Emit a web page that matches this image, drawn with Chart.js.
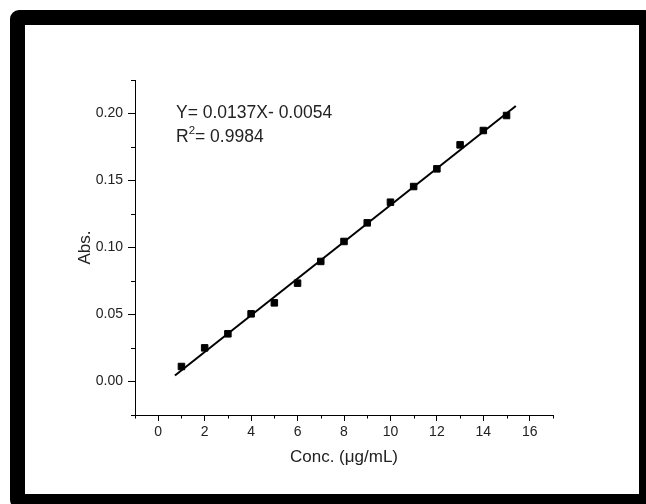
<!DOCTYPE html>
<html><head><meta charset="utf-8">
<script src="https://cdn.jsdelivr.net/npm/chart.js@4/dist/chart.umd.min.js"></script>
<style>
html,body{margin:0;padding:0;background:#fff;overflow:hidden;width:646px;height:504px;}
#frame{position:absolute;left:10px;top:10px;width:614px;height:469px;border:15px solid #000;border-radius:9px;background:#fff;}
#wrap{position:absolute;left:0;top:0;width:646px;height:504px;}
</style></head><body>
<div id="frame"></div>
<div id="wrap"><canvas id="c" width="646" height="504"></canvas></div>
<script>
// ---- data ----
const concentrations = [1, 2, 3, 4, 5, 6, 7, 8, 9, 10, 11, 12, 13, 14, 15];
const absorbance = [0.0112, 0.0251, 0.0356, 0.0505, 0.0587, 0.0734, 0.0896, 0.1045, 0.1184, 0.1338, 0.1455, 0.1587, 0.1766, 0.1873, 0.1985];
const fitLineX = [0.72, 15.4];
const fitLineY = [0.0045, 0.2056];
const xRange = [-1, 17];
const yRange = [-0.025, 0.225];
const xTitle = 'Conc. (μg/mL)';
const yTitle = 'Abs.';
const equationText = 'Y= 0.0137X- 0.0054';
const r2Parts = ['R', '2', '= 0.9984'];

const FAMILY = 'Arial, "Liberation Sans", sans-serif';
const TXT = '#222';

const isMajorX = v => Math.abs(v / 2 - Math.round(v / 2)) < 1e-6;
const isMajorY = v => Math.abs(v / 0.05 - Math.round(v / 0.05)) < 1e-6;

const minorTicks = {
  id: 'minorTicks',
  afterDraw(chart) {
    const c = chart.ctx;
    c.save();
    c.strokeStyle = '#000';
    c.lineWidth = 1;
    const xs = chart.scales.x, ys = chart.scales.y;
    c.beginPath();
    xs.ticks.forEach(t => {
      if (!isMajorX(t.value)) {
        const px = Math.round(xs.getPixelForValue(t.value)) + 0.5;
        c.moveTo(px, xs.top); c.lineTo(px, xs.top + 3.5);
      }
    });
    ys.ticks.forEach(t => {
      if (!isMajorY(t.value)) {
        const py = Math.round(ys.getPixelForValue(t.value)) + 0.5;
        c.moveTo(ys.right, py); c.lineTo(ys.right - 4, py);
      }
    });
    c.stroke();
    c.restore();
  }
};

const annotation = {
  id: 'annotation',
  afterDatasetsDraw(chart) {
    const c = chart.ctx, a = chart.chartArea;
    const x0 = a.left + 41;
    c.save();
    c.fillStyle = TXT;
    c.textBaseline = 'alphabetic';
    c.textAlign = 'left';
    c.font = '17.5px ' + FAMILY;
    c.fillText(equationText, x0, a.top + 38);
    const by = a.top + 61.7;
    c.fillText(r2Parts[0], x0, by);
    let x = x0 + c.measureText(r2Parts[0]).width;
    c.font = '11.5px ' + FAMILY;
    c.fillText(r2Parts[1], x, by - 7.5);
    x += c.measureText(r2Parts[1]).width;
    c.font = '17.5px ' + FAMILY;
    c.fillText(r2Parts[2], x, by);
    c.restore();
  }
};

new Chart(document.getElementById('c'), {
  type: 'scatter',
  data: {
    datasets: [
      {
        label: 'fit',
        type: 'line',
        data: fitLineX.map((x, i) => ({ x, y: fitLineY[i] })),
        borderColor: '#000',
        borderWidth: 2,
        pointRadius: 0,
        showLine: true,
        fill: false,
        tension: 0,
        order: 1
      },
      {
        label: 'data',
        data: concentrations.map((x, i) => ({ x, y: absorbance[i] })),
        pointStyle: 'rect',
        pointRadius: 4.6,
        pointHoverRadius: 4.6,
        backgroundColor: '#000',
        borderColor: '#000',
        borderWidth: 1,
        order: 0
      }
    ]
  },
  options: {
    responsive: false,
    animation: false,
    devicePixelRatio: 1,
    events: [],
    layout: { padding: { left: 0, top: 80, right: 93, bottom: 0 } },
    plugins: { legend: { display: false }, tooltip: { enabled: false } },
    scales: {
      x: {
        type: 'linear',
        position: 'bottom',
        min: xRange[0], max: xRange[1],
        ticks: {
          stepSize: 1, autoSkip: false, maxRotation: 0, padding: 3,
          color: TXT, font: { family: FAMILY, size: 14 },
          callback: v => isMajorX(v) ? String(Math.round(v)) : ''
        },
        grid: {
          drawOnChartArea: false, drawTicks: true, tickLength: 6,
          tickColor: ctx => isMajorX(ctx.tick.value) ? '#000' : 'rgba(0,0,0,0)'
        },
        border: { display: true, color: '#000', width: 1 },
        title: { display: true, text: xTitle, color: TXT, font: { family: FAMILY, size: 17 }, padding: { top: 0, bottom: 36 } },
        afterFit: s => { s.height = 89; }
      },
      y: {
        type: 'linear',
        position: 'left',
        min: yRange[0], max: yRange[1],
        ticks: {
          stepSize: 0.025, autoSkip: false, padding: 5,
          color: TXT, font: { family: FAMILY, size: 14 },
          callback: v => isMajorY(v) ? Number(v).toFixed(2) : ''
        },
        grid: {
          drawOnChartArea: false, drawTicks: true, tickLength: 7,
          tickColor: ctx => isMajorY(ctx.tick.value) ? '#000' : 'rgba(0,0,0,0)'
        },
        border: { display: true, color: '#000', width: 1 },
        title: { display: true, text: yTitle, color: TXT, font: { family: FAMILY, size: 17 }, padding: { top: 75, bottom: 0 } },
        afterFit: s => { s.width = 135; }
      }
    }
  },
  plugins: [minorTicks, annotation]
});
</script>
</body></html>
